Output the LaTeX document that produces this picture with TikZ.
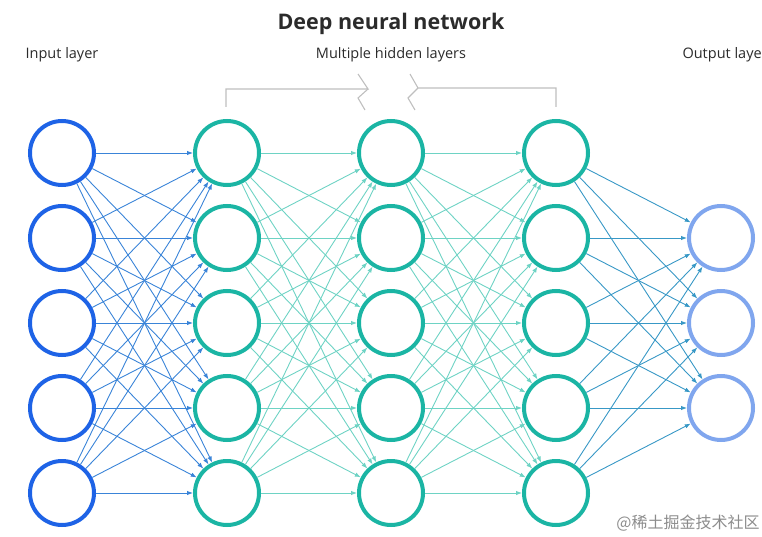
\documentclass[tikz,border=0pt]{standalone}
\usepackage{fontspec}
\setmainfont{Open Sans}
\newfontfamily\cjk{Noto Sans CJK SC}
\usepackage{xcolor}
\usetikzlibrary{arrows.meta}

\definecolor{inblue}{HTML}{1E63E6}
\definecolor{hidteal}{HTML}{1BB5A4}
\definecolor{outblue}{HTML}{80A6EE}
\definecolor{edgeA}{HTML}{3A84D8}
\definecolor{edgeB}{HTML}{6ED3C4}
\definecolor{edgeC}{HTML}{3898C6}
\definecolor{textgray}{HTML}{2B2B2B}

\begin{document}
\begin{tikzpicture}[x=1pt, y=-1pt,
    neuron/.style={circle, draw=#1, line width=4pt, minimum size=64pt, inner sep=0pt},
    link/.style={-{Latex[length=6pt, width=4.5pt]}, line width=0.9pt, draw=#1},
    lbl/.style={font=\fontsize{14.5}{17}\selectfont, text=textgray},
    bracket/.style={draw=black!25, line width=1.1pt}
  ]
  \useasboundingbox (0,0) rectangle (762,537);

  % title and layer labels
  \node[font=\fontsize{21.5}{26}\selectfont\bfseries, text=textgray] (title) at (391,24) {Deep neural network};
  \node[lbl] (lin)  at (62,55)  {Input layer};
  \node[lbl] (lhid) at (391,55) {Multiple hidden layers};
  \node[lbl, anchor=west] (lout) at (679,55) {Output layer};

  % neurons
  \foreach \i in {1,...,5} {
    \node[neuron=inblue]  (i\i) at (62, 68+85*\i) {};
    \node[neuron=hidteal] (a\i) at (227,68+85*\i) {};
    \node[neuron=hidteal] (b\i) at (391,68+85*\i) {};
    \node[neuron=hidteal] (c\i) at (556,68+85*\i) {};
  }
  \foreach \k in {1,2,3}
    \node[neuron=outblue] (o\k) at (721,153+85*\k) {};

  % connections
  \foreach \i in {1,...,5} {
    \foreach \j in {1,...,5} {
      \draw[link=edgeA] (i\i) -- (a\j);
      \draw[link=edgeB] (a\i) -- (b\j);
      \draw[link=edgeB] (b\i) -- (c\j);
    }
    \foreach \k in {1,2,3}
      \draw[link=edgeC] (c\i) -- (o\k);
  }

  % bracket over the hidden layers
  \coordinate (bl) at (226,107);
  \coordinate (br) at (556,107);
  \draw[bracket] (bl) |- (368,89) -- (358,74);
  \draw[bracket] (368,89) -- (358,98) -- (365,110);
  \draw[bracket] (br) |- (418,88) -- (410,74);
  \draw[bracket] (418,88) -- (408,98) -- (415,110);

  % watermark
  \node[font=\cjk\fontsize{16}{18}\selectfont, text=black!45] (wm) at (688,523) {@稀土掘金技术社区};
\end{tikzpicture}
\end{document}
